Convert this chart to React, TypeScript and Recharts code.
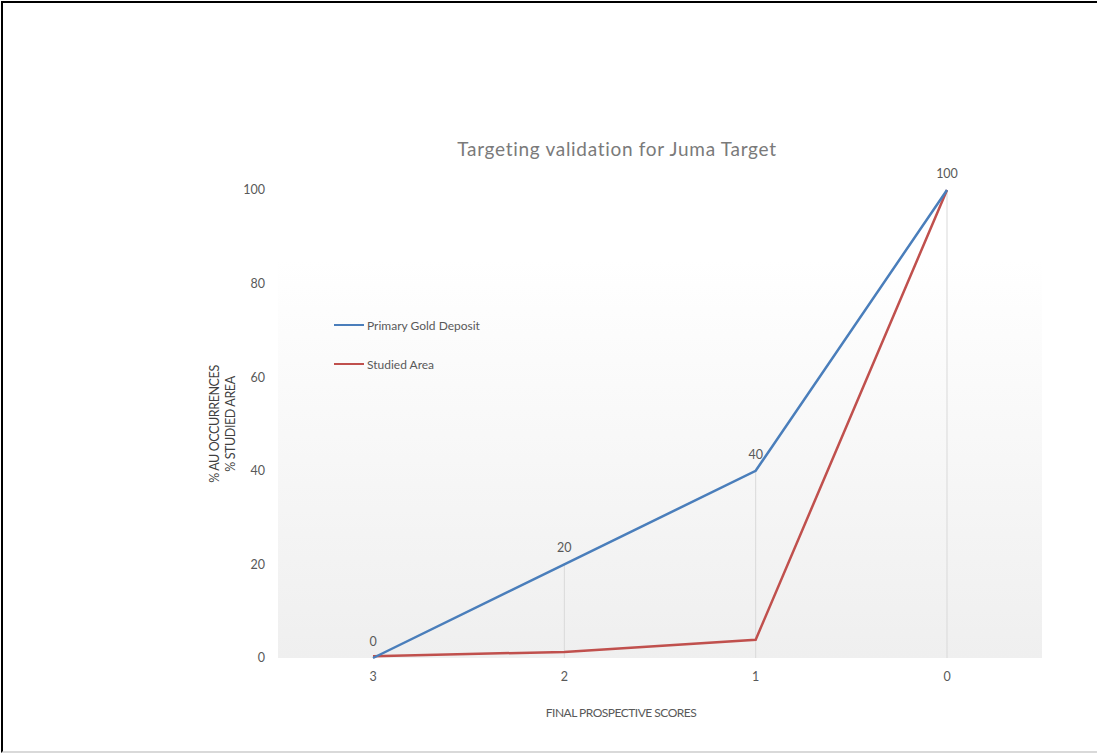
import { LineChart, Line, XAxis, YAxis, CartesianGrid, Legend, LabelList, ReferenceLine } from "recharts";

const scores = ["3", "2", "1", "0"];
const goldDeposit = [0, 20, 40, 100];
const studiedArea = [0.4, 1.3, 3.9, 100];
const yTicks = [0, 20, 40, 60, 80, 100];

const data = scores.map((score, i) => ({
  score,
  gold: goldDeposit[i],
  area: studiedArea[i],
}));

const FONT = "Lato, 'Open Sans', sans-serif";
const BLUE = "#4a7ebb";
const RED = "#c0504d";
const TEXT = "#595959";

function LegendBox() {
  const items = [
    { name: "Primary Gold Deposit", color: BLUE },
    { name: "Studied Area", color: RED },
  ];
  return (
    <div style={{ fontFamily: FONT, fontSize: 12, color: TEXT }}>
      {items.map((it) => (
        <div key={it.name} style={{ display: "flex", alignItems: "center", height: 20, marginBottom: 19 }}>
          <span style={{ display: "inline-block", width: 30, height: 2.5, background: it.color, marginRight: 3 }} />
          {it.name}
        </div>
      ))}
    </div>
  );
}

export default function App() {
  return (
    <div style={{ position: "absolute", left: 0, top: 0, width: 1097, height: 753, background: "#fff" }}>
      <div
        style={{
          position: "absolute",
          left: 1,
          top: 1,
          width: 1096,
          height: 748,
          borderTop: "2px solid #000",
          borderLeft: "2px solid #000",
          borderBottom: "2px solid #d9d9d9",
        }}
      />
      <div
        style={{
          position: "absolute",
          left: 0,
          width: 1234,
          top: 137,
          textAlign: "center",
          fontFamily: FONT,
          fontSize: 19,
          color: "#7a7a7a",
          letterSpacing: 0.7,
        }}
      >
        Targeting validation for Juma Target
      </div>
      <div style={{ position: "absolute", left: 0, top: 0 }}>
        <LineChart width={1097} height={753} data={data} margin={{ top: 190, right: 55, bottom: 25, left: 198 }}>
          <defs>
            <linearGradient id="plotBg" x1="0" y1="0" x2="0" y2="1">
              <stop offset="0%" stopColor="#ffffff" />
              <stop offset="15%" stopColor="#ffffff" />
              <stop offset="100%" stopColor="#efefef" />
            </linearGradient>
          </defs>
          <CartesianGrid horizontal={false} vertical={false} fill="url(#plotBg)" />
          <XAxis
            dataKey="score"
            height={70}
            axisLine={false}
            tickLine={false}
            padding={{ left: 95, right: 95 }}
            tickMargin={8}
            tick={{ fill: TEXT, fontSize: 12.5, fontFamily: FONT }}
            label={{
              content: ({ viewBox }: any) => (
                <text
                  x={viewBox.x + viewBox.width / 2 - 39}
                  y={viewBox.y + 59}
                  textAnchor="middle"
                  fill={TEXT}
                  fontSize={12}
                  fontFamily={FONT}
                  letterSpacing={-0.5}
                >
                  FINAL PROSPECTIVE SCORES
                </text>
              ),
            }}
          />
          <YAxis
            width={80}
            domain={[0, 100]}
            ticks={yTicks}
            axisLine={false}
            tickLine={false}
            tickMargin={7}
            tick={{ fill: TEXT, fontSize: 12.5, fontFamily: FONT }}
            label={{
              content: ({ viewBox }: any) => {
                const cy = viewBox.y + viewBox.height / 2;
                return (
                  <g fontSize={12.5} fontFamily={FONT} fill="#404040" letterSpacing={-0.4} textAnchor="middle">
                    <text x={viewBox.x + 17} y={cy} transform={`rotate(-90 ${viewBox.x + 17} ${cy})`} dy="0.35em">
                      % AU OCCURRENCES
                    </text>
                    <text x={viewBox.x + 33} y={cy} transform={`rotate(-90 ${viewBox.x + 33} ${cy})`} dy="0.35em">
                      % STUDIED AREA
                    </text>
                  </g>
                );
              },
            }}
          />
          {data.map((d) => (
            <ReferenceLine
              key={d.score}
              segment={[
                { x: d.score, y: 0 },
                { x: d.score, y: d.gold },
              ]}
              stroke="#d9d9d9"
              strokeWidth={1}
            />
          ))}
          <Legend
            layout="vertical"
            verticalAlign="middle"
            align="center"
            content={() => <LegendBox />}
            wrapperStyle={{ position: "absolute", left: 334, top: 315, width: 200 }}
          />
          <Line
            type="linear"
            dataKey="area"
            name="Studied Area"
            stroke={RED}
            strokeWidth={2.5}
            dot={false}
            isAnimationActive={false}
          />
          <Line
            type="linear"
            dataKey="gold"
            name="Primary Gold Deposit"
            stroke={BLUE}
            strokeWidth={2.5}
            dot={false}
            isAnimationActive={false}
          >
            <LabelList dataKey="gold" position="top" offset={12} fill={TEXT} fontSize={12.5} fontFamily={FONT} />
          </Line>
        </LineChart>
      </div>
    </div>
  );
}
